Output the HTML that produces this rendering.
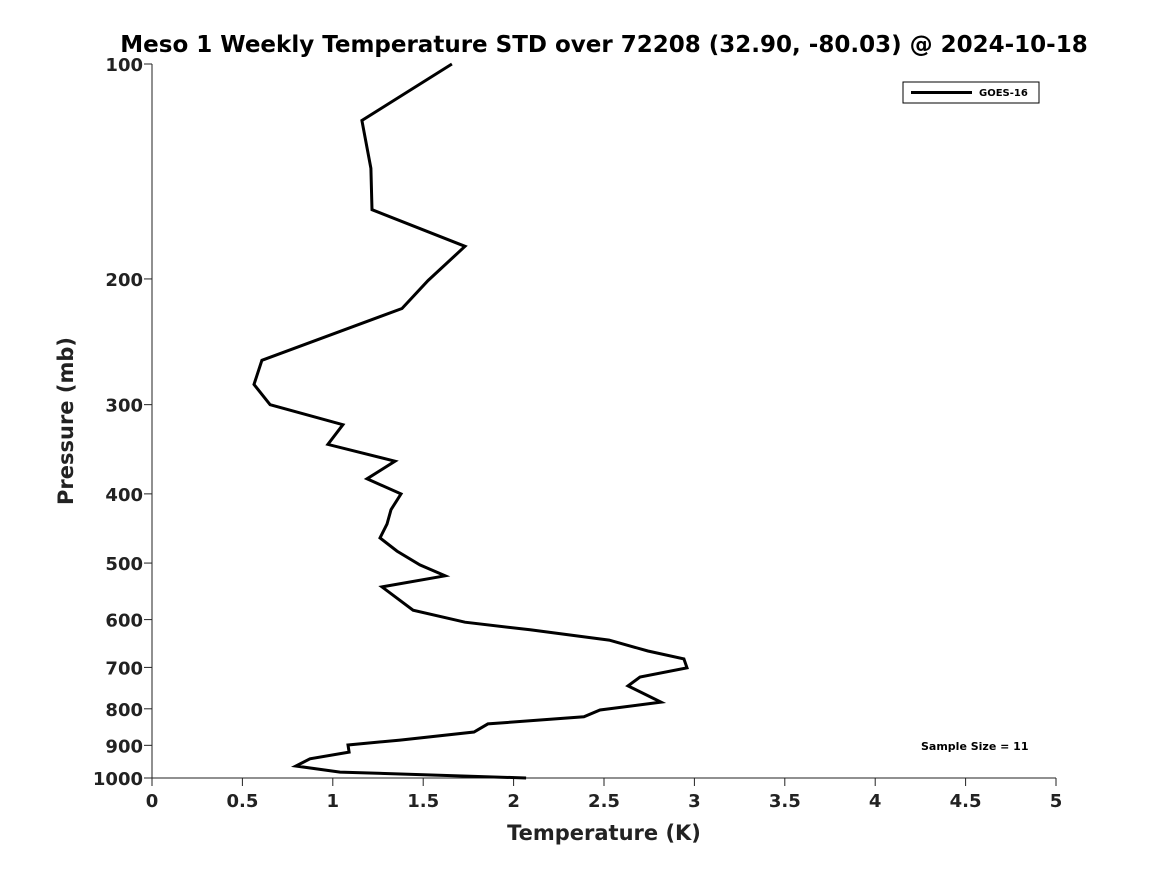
<!DOCTYPE html>
<html><head><meta charset="utf-8"><style>
body{margin:0;background:#fff;}
svg text{font-family:"DejaVu Sans","Liberation Sans",sans-serif;font-weight:bold;fill:#222;}
</style></head><body>
<svg id="chart" width="1167" height="875" xmlns="http://www.w3.org/2000/svg">
<rect width="1167" height="875" fill="#fff"/>
<text x="604" y="52" text-anchor="middle" font-size="23" style="fill:#000">Meso 1 Weekly Temperature STD over 72208 (32.90, -80.03) @ 2024-10-18</text>
<g id="axes"></g>
<g>
<rect x="903" y="82" width="136" height="21" fill="#fff" stroke="#000" stroke-width="1"/>
<line x1="911" y1="92.5" x2="972" y2="92.5" stroke="#000" stroke-width="3"/>
<text x="979" y="96" font-size="10" style="fill:#000">GOES-16</text>
</g>
<text x="921" y="750" font-size="11" style="fill:#000">Sample Size = 11</text>
<text x="604" y="840" text-anchor="middle" font-size="21">Temperature (K)</text>
<text transform="translate(73,421) rotate(-90)" text-anchor="middle" font-size="21">Pressure (mb)</text>
</svg>
<script>
const temps=[1.659,1.161,1.211,1.217,1.731,1.527,1.383,0.608,0.564,0.653,1.056,0.973,1.344,1.189,1.377,1.322,1.300,1.261,1.355,1.482,1.621,1.272,1.444,1.731,2.091,2.528,2.743,2.942,2.959,2.699,2.633,2.815,2.478,2.389,1.858,1.781,1.372,1.084,1.090,0.874,0.796,1.040,2.069];
const pressures=[100,120,140,160,180,201,220,260,281,300,320,341,360,381,400,421,441,461,481,503,521,540,582,605,620,641,664,681,701,722,743,783,803,821,840,862,885,899,920,940,962,981,1000];
const xTicks=[0,0.5,1,1.5,2,2.5,3,3.5,4,4.5,5];
const xTickLabels=["0","0.5","1","1.5","2","2.5","3","3.5","4","4.5","5"];
const yTicks=[100,200,300,400,500,600,700,800,900,1000];
const yTickLabels=["100","200","300","400","500","600","700","800","900","1000"];
const X0=152,X1=1056,Y0=64,Y1=778;
const xs=v=>X0+(v-0)/(5-0)*(X1-X0);
const ys=p=>Y0+(Math.log10(p)-2)/(Math.log10(1000)-2)*(Y1-Y0);
const NS="http://www.w3.org/2000/svg";
const svg=document.getElementById('chart');
const ax=document.getElementById('axes');
function mk(t,a){const e=document.createElementNS(NS,t);for(const k in a)e.setAttribute(k,a[k]);return e;}
let l=mk('line',{x1:X0,y1:Y0,x2:X0,y2:Y1,stroke:'#222','stroke-width':1});


ax.appendChild(l);
l=mk('line',{x1:X0,y1:Y1,x2:X1,y2:Y1,stroke:'#222','stroke-width':1});


ax.appendChild(l);
xTicks.forEach((v,i)=>{
 const t=mk('line',{x1:xs(v),y1:Y1,x2:xs(v),y2:Y1+8,stroke:'#222'});
 
 
 ax.appendChild(t);
 const tx=mk('text',{x:xs(v),y:807,'text-anchor':'middle','font-size':18});
 
 
 tx.textContent=xTickLabels[i];ax.appendChild(tx);
});
yTicks.forEach((v,i)=>{
 const t=mk('line',{x1:X0-8,y1:ys(v),x2:X0,y2:ys(v),stroke:'#222'});
 
 
 ax.appendChild(t);
 const tx=mk('text',{x:143,y:ys(v)+7,'text-anchor':'end','font-size':18});
 
 
 tx.textContent=yTickLabels[i];ax.appendChild(tx);
});
const pts=temps.map((t,i)=>xs(t).toFixed(1)+','+ys(pressures[i]).toFixed(1)).join(' ');
const pl=mk('polyline',{points:pts,fill:'none',stroke:'#000','stroke-width':3,'stroke-linejoin':'miter'});


svg.appendChild(pl);
</script>
</body></html>
